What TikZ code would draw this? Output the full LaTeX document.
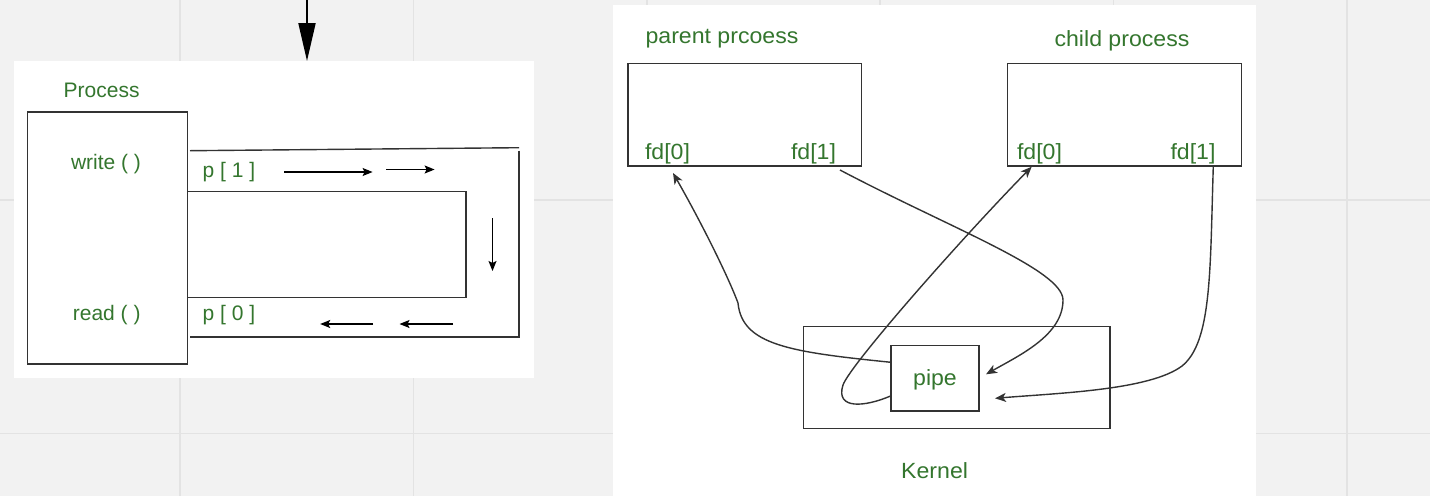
\documentclass[tikz,border=0pt]{standalone}
\usepackage{fontspec}
\setmainfont{Liberation Sans}
\newfontfamily\wsans[FakeStretch=1.05]{Liberation Sans}
\usetikzlibrary{arrows.meta}
\definecolor{bgc}{HTML}{F2F2F2}
\definecolor{gridc}{HTML}{E3E3E3}
\definecolor{txtg}{RGB}{52,118,46}
\definecolor{ln}{HTML}{333333}
\begin{document}
\begin{tikzpicture}[x=1pt,y=-1pt,
  box/.style={draw=ln, line width=1.4pt, fill=white, inner sep=0pt, outer sep=0pt},
  lbl/.style={text=txtg, font=\fontsize{21}{24}\selectfont, inner sep=0pt},
  rlbl/.style={text=txtg, font=\wsans\fontsize{22}{26}\selectfont, inner sep=0pt},
  con/.style={draw=ln, line width=1.4pt, -{Stealth[length=11pt,width=9pt,inset=3pt]}},
  flow/.style={draw=black, line width=1.2pt, -{Stealth[length=10pt,width=8pt,inset=2pt]}},
  wall/.style={draw=ln, line width=1.4pt},
  gridline/.style={draw=gridc, line width=1.6pt}]
% background and grid
\useasboundingbox (0,0) rectangle (1430,496);
\fill[bgc] (0,0) rectangle (1430,496);
\foreach \gx in {180,413.4,646.8,880.2,1113.6,1347} {\draw[gridline] (\gx,0) -- (\gx,496);}
\foreach \gy in {200,433.4} {\draw[gridline] (0,\gy) -- (1430,\gy);}
% panels
\fill[white] (14,61) rectangle (534,378);
\fill[white] (613,5) rectangle (1256,496);

% ---------- left diagram ----------
\coordinate (topin) at (307,0);
\coordinate (topend) at (307,61);
\draw[draw=black, line width=2pt, -{Triangle[length=38pt,width=17pt]}] (topin) -- (topend);

\node[lbl] (proclbl) at (101.6,90.7) {Process};
\node[box, minimum width=160pt, minimum height=252pt] (proc) at (107.6,238) {};
\node[lbl] (write) at (106,164.5) {write ( )};
\node[lbl] (read) at (106.7,315.5) {read ( )};

% pipe walls
\draw[wall] (190,150.7) -- (519,147.7);
\draw[wall] (519,150.5) -- (519,337) -- (190,337);
\draw[wall] (proc.east |- 0,191.7) -- (466,191.7) -- (466,297.3) -- (proc.east |- 0,297.3);

\node[lbl] (p1) at (229,172.5) {p [ 1 ]};
\node[lbl] (p0) at (229,315) {p [ 0 ]};

\coordinate (a1s) at (284.4,172);
\coordinate (a1e) at (372.6,172);
\coordinate (a2s) at (386.4,169.5);
\coordinate (a2e) at (434.6,169.5);
\coordinate (a3s) at (492.5,218);
\coordinate (a3e) at (492.5,271);
\coordinate (a4s) at (453,324);
\coordinate (a4e) at (399.5,324);
\coordinate (a5s) at (373,324);
\coordinate (a5e) at (320.2,324);
\draw[flow] (a1s) -- (a1e);
\draw[flow] (a2s) -- (a2e);
\draw[flow] (a3s) -- (a3e);
\draw[flow] (a4s) -- (a4e);
\draw[flow] (a5s) -- (a5e);

% ---------- right diagram ----------
\node[rlbl] (parentlbl) at (722,38.3) {parent prcoess};
\node[rlbl] (childlbl) at (1122,40.7) {child process};
\node[box, minimum width=233.5pt, minimum height=102.3pt] (parent) at (744.75,114.85) {};
\node[box, minimum width=234pt, minimum height=102.3pt] (child) at (1124.6,114.85) {};
\node[rlbl] (pfd0) at (667.5,154) {fd[0]};
\node[rlbl] (pfd1) at (813.5,154) {fd[1]};
\node[rlbl] (cfd0) at (1039.5,154) {fd[0]};
\node[rlbl] (cfd1) at (1193,154) {fd[1]};

\node[box, minimum width=306.7pt, minimum height=101.8pt] (kernel) at (956.6,377.6) {};
\node[box, minimum width=88pt, minimum height=65.3pt] (pipe) at (935,378.3) {};
\node[rlbl] (pipelbl) at (935,380) {pipe};
\node[rlbl] (kernellbl) at (934.6,471) {Kernel};

% connectors
\coordinate (c1s) at ([yshift=16pt]pipe.west);
\coordinate (c1m) at (738,303);
\coordinate (c1e) at (673,173);
\draw[con] (c1s) .. controls (790,352) and (742,345) .. (c1m)
                 .. controls (728,276) and (700,220) .. (c1e);

\coordinate (c2s) at (840,170);
\coordinate (c2m) at (1063,300);
\coordinate (c2e) at ([xshift=7pt,yshift=4pt]pipe.east);
\draw[con] (c2s) .. controls (950,228) and (1063,270) .. (c2m)
                 .. controls (1063,335) and (1020,355) .. (c2e);

\coordinate (c3s) at ([yshift=-17.5pt]pipe.west);
\coordinate (c3m) at (843,385);
\coordinate (c3e) at (1031.7,166.7);
\draw[con] (c3s) .. controls (865,407) and (835,410) .. (c3m)
                 .. controls (850,365) and (960,240) .. (c3e);

\coordinate (c4s) at (1213.3,166);
\coordinate (c4m) at (1182,366);
\coordinate (c4e) at ([xshift=16pt,yshift=-20pt]pipe.east);
\draw[con] (c4s) .. controls (1210,270) and (1212,342) .. (c4m)
                 .. controls (1150,390) and (1060,393) .. (c4e);
\end{tikzpicture}
\end{document}
